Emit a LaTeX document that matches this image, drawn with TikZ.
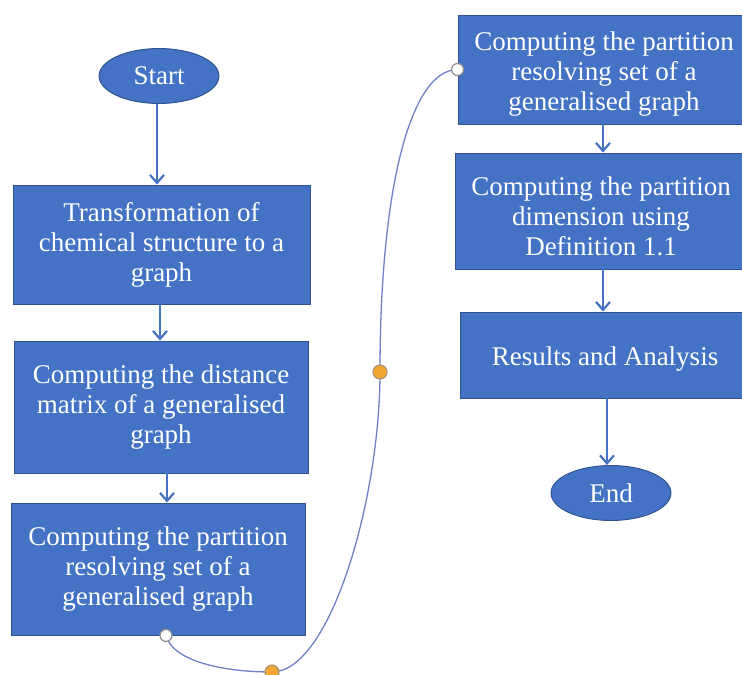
\documentclass[tikz,border=0pt]{standalone}
\usepackage{fontspec}
\setmainfont{Liberation Serif}
\usetikzlibrary{arrows.meta,shapes.geometric}
\definecolor{boxfill}{HTML}{4472C4}
\definecolor{boxline}{HTML}{2F528F}
\definecolor{wire}{HTML}{6F80C6}
\definecolor{handle}{HTML}{F2A531}
\definecolor{ring}{HTML}{8E8E8E}
\tikzset{
  stepbox/.style={rectangle, draw=boxline, line width=0.9pt, fill=boxfill,
    text=white, align=center, inner sep=0pt,
    font=\fontsize{27}{30}\selectfont},
  steptext/.style={text=white, align=center, inner sep=0pt,
    font=\fontsize{27}{30}\selectfont},
  terminal/.style={ellipse, draw=boxline, line width=0.9pt, fill=boxfill,
    text=white, inner sep=0pt, minimum width=120pt, minimum height=55pt,
    font=\fontsize{27}{30}\selectfont},
  flow/.style={draw=boxfill, line width=2.2pt,
    -{Straight Barb[length=8pt,width=14pt,line width=2.2pt]}},
  endpt/.style={circle, draw=ring, fill=white, line width=1.2pt,
    minimum size=12pt, inner sep=0pt},
  adjpt/.style={circle, draw=ring!70!handle, fill=handle, line width=1.2pt,
    minimum size=14pt, inner sep=0pt}
}
\begin{document}
\begin{tikzpicture}[x=1pt,y=-1pt]
\useasboundingbox (0,0) rectangle (742,675);
\clip (0,0) rectangle (742,675);

% left column
\node[terminal] (start) at (159,76) {Start};
\node[stepbox, minimum width=297pt, minimum height=119pt] (b1) at (161.5,244.5)
  {Transformation of\\chemical structure to a\\graph};
\node[stepbox, minimum width=294pt, minimum height=132pt] (b2) at (161,407)
  {Computing the distance\\matrix of a generalised\\graph};
\node[stepbox, minimum width=294pt, minimum height=132pt] (b3) at (158,569)
  {Computing the partition\\resolving set of a\\generalised graph};

% right column (boxes run past the right edge; text set slightly low)
\node[stepbox, minimum width=292pt, minimum height=109pt] (b4) at (604,69.5) {};
\node[steptext, yshift=-5pt] (t4) at (b4.center)
  {Computing the partition\\resolving set of a\\generalised graph};
\node[stepbox, minimum width=292pt, minimum height=116pt] (b5) at (601,211) {};
\node[steptext, yshift=-5pt] (t5) at (b5.center)
  {Computing the partition\\dimension using\\Definition 1.1};
\node[stepbox, minimum width=290pt, minimum height=86pt] (b6) at (605,355) {};
\node[steptext, yshift=-4pt] (t6) at (b6.center) {Results and Analysis};
\node[terminal] (end) at (611,493) {End};

% arrows
\draw[flow] ([xshift=-2pt]start.south) -- ([xshift=-2pt]start.south |- b1.north);
\draw[flow] ([xshift=-1.5pt]b1.south) -- ([xshift=-1.5pt]b1.south |- b2.north);
\draw[flow] ([xshift=6pt]b2.south) -- ([xshift=6pt]b2.south |- b3.north);
\draw[flow] ([xshift=-1pt]b4.south) -- ([xshift=-1pt]b4.south |- b5.north);
\draw[flow] ([xshift=2pt]b5.south) -- ([xshift=2pt]b5.south |- b6.north);
\draw[flow] ([xshift=2pt]b6.south) -- ([xshift=2pt]b6.south |- end.north);

% curved connector between the two columns
\coordinate (c0) at ([xshift=8pt]b3.south);
\coordinate (c1) at (272,672);
\coordinate (c2) at (380,372);
\coordinate (c3) at (b4.west);
\draw[wire, line width=1.3pt]
  (c0) .. controls (172,660) and (220,672) .. (c1)
       .. controls (330,672) and (380,500) .. (c2)
       .. controls (380,190) and (410,70) .. (c3);
\node[endpt] (h0) at (c0) {};
\node[endpt] (h3) at (c3) {};
\node[adjpt] (h1) at (c1) {};
\node[adjpt] (h2) at (c2) {};
\end{tikzpicture}
\end{document}
